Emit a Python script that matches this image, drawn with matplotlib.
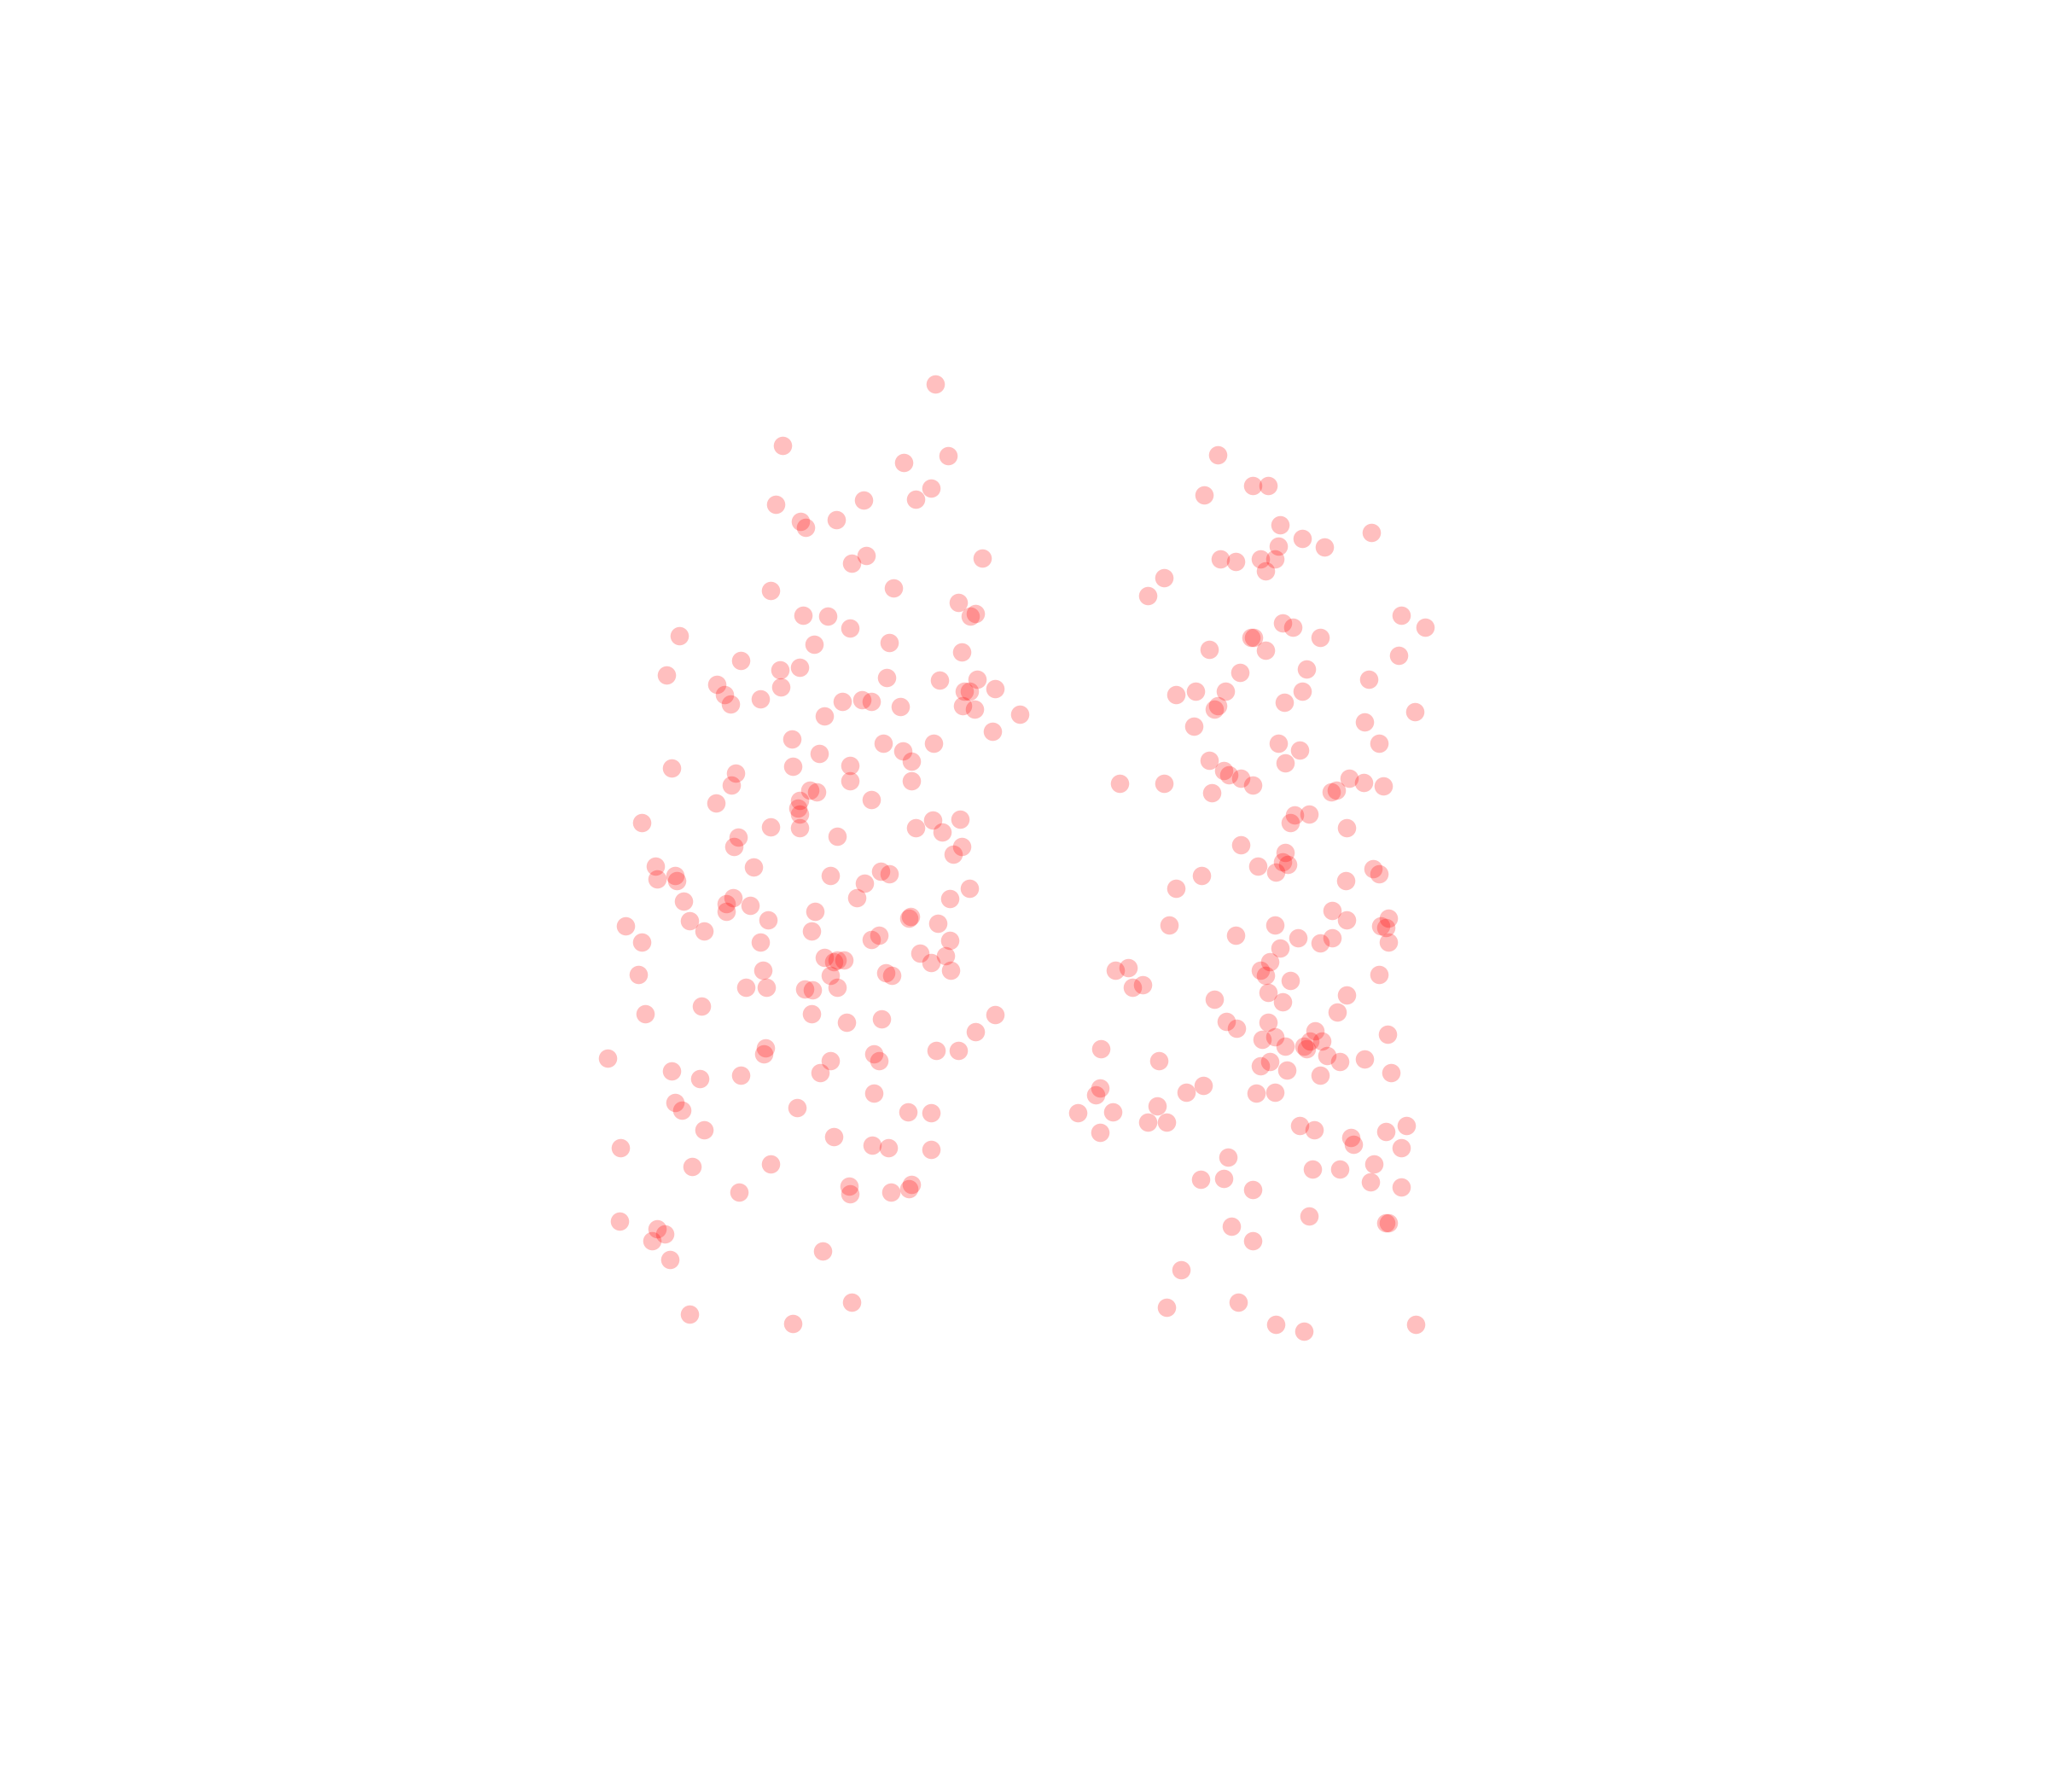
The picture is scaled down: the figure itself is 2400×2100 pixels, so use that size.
import numpy as np
import matplotlib
matplotlib.use("Agg")
import matplotlib.pyplot as plt

# puntos leidos a ojo (x, y), eje y hacia abajo
izq_x = [716, 599, 692, 726, 713, 701, 661, 594, 613, 617, 640, 663, 652, 752, 590, 684, 734, 615, 634, 651,
         747, 743, 520, 623, 681, 736, 510, 567, 597, 612, 598, 549, 555, 559, 582, 679, 719, 748, 762, 738,
         742, 737, 746, 781, 645, 660, 667, 631, 689, 760, 606, 676, 715, 627, 691, 698, 514, 607, 651, 651,
         698, 563, 560, 620, 625, 548, 612, 611, 612, 667, 491, 590, 612, 641, 714, 735, 721, 701, 565, 562,
         730, 736, 502, 577, 503, 517, 518, 636, 674, 681, 662, 656, 742, 727, 523, 561, 556, 574, 556, 624,
         697, 696, 479, 528, 539, 588, 621, 667, 673, 718, 727, 491, 582, 631, 638, 641, 646, 636, 704, 713,
         724, 728, 489, 584, 678, 683, 571, 587, 616, 622, 641, 494, 537, 621, 648, 675, 762, 747, 586, 585,
         465, 636, 669, 673, 717, 734, 514, 536, 567, 628, 669, 517, 522, 610, 539, 695, 713, 638, 475, 668,
         680, 713, 530, 590, 650, 698, 696, 566, 651, 682, 474, 503, 509, 499, 630, 513, 528, 607, 652]
izq_y = [294, 341, 354, 349, 374, 382, 383, 386, 399, 404, 398, 425, 431, 427, 452, 450, 461, 471, 472, 481,
         470, 472, 487, 493, 492, 499, 517, 506, 513, 511, 526, 524, 532, 539, 535, 519, 521, 520, 527, 529,
         529, 540, 543, 547, 537, 536, 537, 548, 541, 560, 566, 569, 569, 577, 575, 583, 588, 587, 586, 598,
         598, 592, 601, 605, 606, 615, 613, 619, 623, 612, 630, 633, 634, 640, 628, 627, 637, 634, 641, 648,
         654, 648, 663, 664, 673, 670, 674, 670, 667, 669, 676, 687, 680, 688, 690, 687, 692, 693, 698, 698,
         702, 703, 709, 705, 713, 704, 713, 719, 716, 707, 720, 721, 721, 733, 736, 735, 735, 747, 730, 737,
         732, 743, 746, 743, 745, 747, 756, 756, 757, 758, 756, 776, 770, 776, 783, 780, 777, 790, 802, 807,
         810, 812, 807, 812, 804, 804, 820, 826, 823, 821, 837, 844, 850, 848, 865, 851, 852, 870, 879, 877,
         879, 880, 893, 891, 908, 907, 910, 913, 914, 913, 935, 941, 945, 950, 958, 964, 1006, 1013, 997]

der_x = [932, 922, 959, 971, 980, 1050, 997, 979, 1014, 934, 946, 965, 976, 969, 891, 879, 982, 990, 1073, 1091,
         958, 960, 1011, 926, 969, 1071, 949, 1000, 1048, 900, 915, 938, 997, 932, 930, 983, 1083, 914, 1045, 1056,
         979, 995, 926, 984, 937, 941, 950, 959, 857, 891, 928, 1033, 1044, 1059, 1019, 1023, 991, 1002, 988, 1031,
         950, 984, 963, 982, 986, 977, 920, 1051, 1056, 1030, 900, 1020, 1063, 1031, 1057, 1061, 895, 976, 946, 994,
         1011, 1020, 1063, 980, 972, 965, 969, 854, 864, 988, 1056, 867, 875, 971, 930, 982, 1031, 1024, 939, 947,
         971, 1062, 966, 976, 1007, 1003, 998, 1012, 984, 1000, 1016, 1026, 1045, 843, 887, 965, 972, 985, 1011, 1065,
         842, 839, 908, 921, 962, 976, 825, 852, 886, 879, 893, 842, 995, 1006, 1077, 1034, 1036, 1061, 1073, 940,
         1005, 1026, 1052, 919, 937, 1049, 959, 1073, 1002, 1061, 1063, 943, 959, 904, 893, 948, 977, 998, 1084]
der_y = [348, 379, 372, 372, 402, 408, 412, 418, 419, 428, 430, 428, 428, 437, 442, 456, 477, 480, 471, 480,
         488, 488, 488, 497, 498, 502, 515, 512, 520, 532, 529, 529, 529, 540, 543, 538, 545, 556, 553, 569,
         569, 574, 582, 584, 590, 593, 596, 601, 600, 600, 607, 596, 599, 602, 606, 605, 624, 623, 630, 634,
         647, 653, 663, 660, 662, 668, 670, 665, 669, 674, 680, 697, 703, 704, 709, 710, 708, 708, 716, 718,
         722, 718, 721, 726, 736, 743, 747, 743, 741, 751, 746, 756, 754, 760, 765, 767, 762, 775, 782, 787,
         783, 792, 796, 794, 789, 797, 801, 797, 801, 803, 808, 813, 811, 803, 812, 816, 813, 819, 823, 821,
         833, 838, 836, 831, 837, 836, 852, 851, 847, 859, 859, 867, 862, 865, 862, 871, 876, 866, 879, 886,
         895, 895, 891, 903, 902, 905, 911, 909, 931, 936, 936, 939, 950, 972, 1001, 997, 1014, 1019, 1014]

x = np.array(izq_x + der_x)
y = np.array(izq_y + der_y)

fig = plt.figure(figsize=(12, 10.5), dpi=200)
ax = fig.add_axes([0, 0, 1, 1])
ax.scatter(x, y, s=60, color="red", alpha=0.25, linewidths=0)
ax.set_xlim(0, 1568)
ax.set_ylim(1372, 0)
ax.axis("off")
fig.savefig("out.png", dpi=200, facecolor="white")
